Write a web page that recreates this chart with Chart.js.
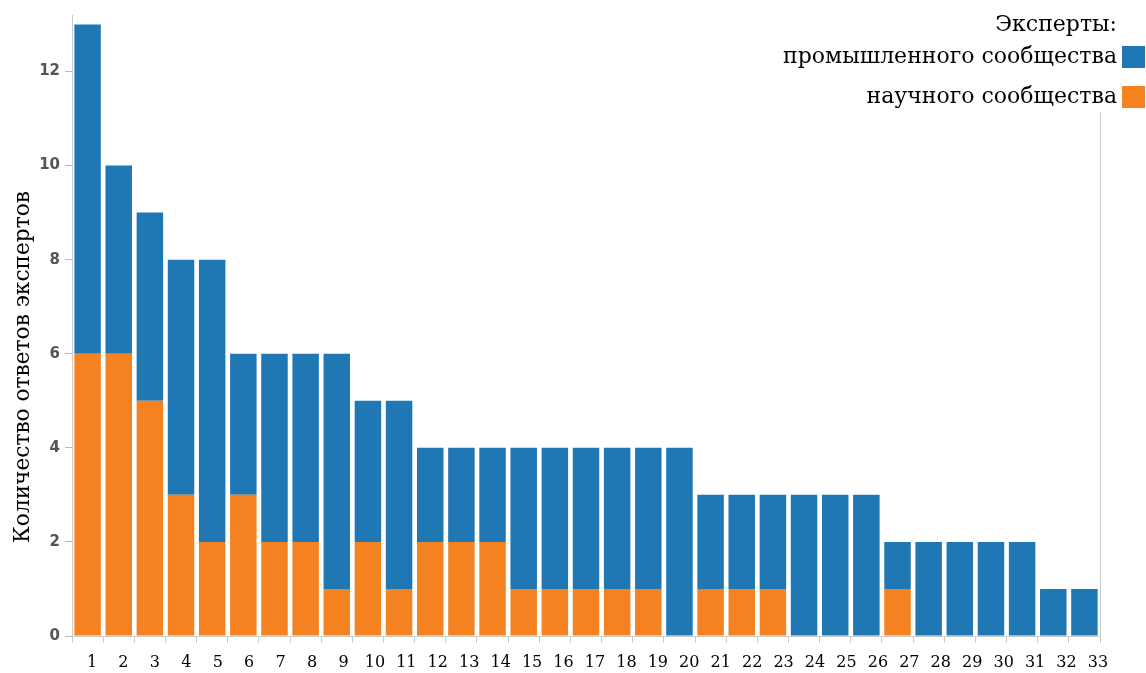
<!DOCTYPE html>
<html><head><meta charset="utf-8">
<script src="https://cdn.jsdelivr.net/npm/chart.js@4/dist/chart.umd.min.js"></script>
<style>html,body{margin:0;padding:0;background:#fff;}#wrap{width:1146px;height:673px;}</style>
</head><body><div id="wrap"><canvas id="c" width="1146" height="673"></canvas></div>
<script>
const categories = ["1","2","3","4","5","6","7","8","9","10","11","12","13","14","15","16","17","18","19","20","21","22","23","24","25","26","27","28","29","30","31","32","33"];
const scienceValues = [6,6,5,3,2,3,2,2,1,2,1,2,2,2,1,1,1,1,1,0,1,1,1,0,0,0,1,0,0,0,0,0,0];
const industryValues = [7,4,4,5,6,3,4,4,5,3,4,2,2,2,3,3,3,3,3,4,2,2,2,3,3,3,1,2,2,2,2,1,1];
const seriesNames = ["промышленного сообщества","научного сообщества"];
const legendTitle = "Эксперты:";
const yTitle = "Количество ответов экспертов";
const colors = ["#1f77b4","#f58220"];
const SERIF = '"DejaVu Serif"';

function fitFont(ctx, text, width) {
  ctx.font = '20px ' + SERIF;
  const w = ctx.measureText(text).width;
  return 20 * width / w;
}

const deco = {
  id:'deco',
  afterDraw(chart){
    const ctx = chart.ctx, a = chart.chartArea;
    ctx.save();
    ctx.strokeStyle = '#cccccc'; ctx.lineWidth = 1;
    ctx.beginPath(); ctx.moveTo(Math.round(a.right)+0.5, 112); ctx.lineTo(Math.round(a.right)+0.5, a.bottom); ctx.stroke();
    const ts = fitFont(ctx, yTitle, 352);
    ctx.fillStyle = '#000';
    ctx.font = ts.toFixed(2) + 'px ' + SERIF;
    ctx.translate(23, 367);
    ctx.rotate(-Math.PI/2);
    ctx.textAlign = 'center'; ctx.textBaseline = 'middle';
    ctx.fillText(yTitle, 0, 0);
    ctx.restore();
    ctx.save();
    const ls = fitFont(ctx, seriesNames[0], 334);
    ctx.font = ls.toFixed(2) + 'px ' + SERIF;
    ctx.fillStyle = '#000';
    ctx.textAlign = 'right'; ctx.textBaseline = 'middle';
    ctx.fillText(legendTitle, 1117, 25);
    const ys = [57, 97];
    for (let i = 0; i < 2; i++) {
      ctx.fillStyle = '#000';
      ctx.fillText(seriesNames[i], 1117, ys[i]);
      ctx.fillStyle = colors[i];
      ctx.fillRect(1122, ys[i]-11, 23, 22);
    }
    ctx.restore();
  }
};

new Chart(document.getElementById('c'), {
  type: 'bar',
  data: {
    labels: categories,
    datasets: [
      {label: seriesNames[1], data: scienceValues, backgroundColor: colors[1], stack: 's', barPercentage: 0.85, categoryPercentage: 1.0, xAxisID: 'x'},
      {label: seriesNames[0], data: industryValues, backgroundColor: colors[0], stack: 's', barPercentage: 0.85, categoryPercentage: 1.0, xAxisID: 'x'}
    ]
  },
  options: {
    responsive: false,
    animation: false,
    layout: {padding: {top: 15, right: 46, left: 0, bottom: 0}},
    plugins: {legend: {display: false}, tooltip: {enabled: false}},
    scales: {
      x: {
        stacked: true,
        offset: true,
        grid: {offset: true, drawOnChartArea: false, tickLength: 7, color: '#cccccc'},
        border: {color: '#cccccc'},
        ticks: {display: false, autoSkip: false},
        afterFit(s){ s.height = 7; }
      },
      xl: {
        type: 'linear',
        position: 'bottom',
        offset: false,
        min: 0.364, max: 33.064,
        grid: {display: false, offset: false},
        border: {display: false},
        ticks: {
          autoSkip: false, maxRotation: 0, minRotation: 0, padding: 2,
          color: '#000', font: {family: 'DejaVu Serif', size: 16},
          callback(v){ return categories[Math.round(v)-1]; }
        },
        afterBuildTicks(s){ s.ticks = categories.map((c, i) => ({value: i + 1})); },
        afterFit(s){ s.height = 30; }
      },
      y: {
        stacked: true,
        min: 0, max: 13.2,
        grid: {drawOnChartArea: false, tickLength: 7, color: '#bbbbbb'},
        border: {color: '#cccccc'},
        ticks: {stepSize: 2, color: '#555', font: {family: 'DejaVu Sans', size: 15, weight: 'bold'}, padding: 5},
        afterBuildTicks(s){ s.ticks = s.ticks.filter(t => t.value % 2 === 0); },
        afterFit(s){ s.width = 72; }
      }
    }
  },
  plugins: [deco]
});
</script></body></html>
